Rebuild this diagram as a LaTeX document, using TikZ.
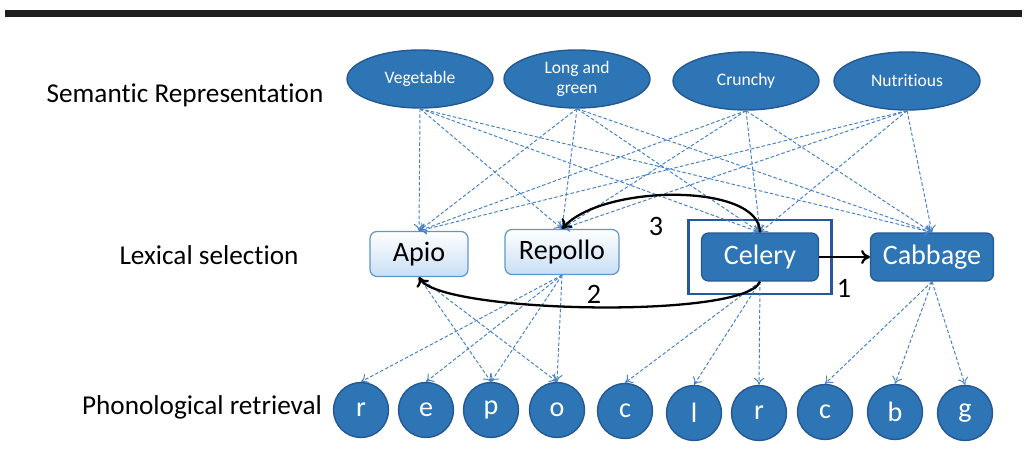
\documentclass[tikz,border=0pt]{standalone}
\usepackage{fontspec}
\setmainfont{Carlito}[Ligatures=NoCommon]
\usetikzlibrary{arrows.meta,shapes.geometric,fit}
\definecolor{nodeblue}{RGB}{46,117,182}
\definecolor{edgeblue}{RGB}{36,88,146}
\definecolor{lineblue}{RGB}{70,128,198}
\definecolor{paleblue}{RGB}{200,222,245}
\definecolor{frameblue}{RGB}{38,88,158}
\begin{document}
\begin{tikzpicture}[x=0.02cm, y=-0.02cm,
  every node/.style={align=center},
  semnode/.style={ellipse, draw=edgeblue, fill=nodeblue, text=white, line width=0.8pt,
                  minimum width=2.92cm, minimum height=1.16cm, inner sep=0pt,
                  font=\fontsize{10}{11.5}\selectfont},
  lexlight/.style={draw=nodeblue!75, top color=white, bottom color=paleblue, line width=0.7pt,
                   rounded corners=4pt, minimum height=0.9cm, font=\fontsize{16}{18}\selectfont},
  lexdark/.style={draw=edgeblue, fill=nodeblue, text=white, line width=0.7pt,
                  rounded corners=4pt, minimum height=0.96cm, font=\fontsize{16}{18}\selectfont},
  phonnode/.style={circle, draw=edgeblue, fill=nodeblue, text=white, line width=0.8pt,
                   minimum size=1.1cm, inner sep=0pt, font=\fontsize{16}{18}\selectfont},
  levelname/.style={font=\fontsize{15.5}{18}\selectfont},
  link/.style={lineblue, line width=0.55pt, dash pattern=on 2pt off 1.2pt, -{To[length=4pt,width=6pt]}},
  jump/.style={black, line width=1.3pt, -{To[length=5pt,width=8pt]}},
  numlabel/.style={font=\fontsize{16}{18}\selectfont}
]
\useasboundingbox (0,0) rectangle (1024,472);
\fill[black!88] (5,10) rectangle (1022,17);

\node[levelname] (semlevel) at (185,95) {Semantic Representation};
\node[levelname] (lexlevel) at (209,255) {Lexical selection};
\node[levelname] (phonlevel) at (202,407) {Phonological retrieval};

\node[semnode] (vegetable) at (420,79) {Vegetable};
\node[semnode] (longgreen) at (577,79) {Long and\\green};
\node[semnode] (crunchy) at (746,81) {Crunchy};
\node[semnode] (nutritious) at (907,81) {Nutritious};

\node[lexlight, minimum width=1.96cm] (apio) at (419,254) {Apio};
\node[lexlight, minimum width=2.28cm] (repollo) at (562,252) {Repollo};
\node[lexdark, minimum width=2.34cm] (celery) at (760,257) {Celery};
\node[lexdark, minimum width=2.46cm] (cabbage) at (932,257) {Cabbage};
\node[draw=frameblue, line width=1.3pt, inner xsep=0.25cm, inner ysep=0.25cm, fit=(celery)] (focus) {};

\node[phonnode] (r1) at (361,410) {r};
\node[phonnode] (e1) at (426,410) {e};
\node[phonnode] (p1) at (491,410) {p};
\node[phonnode] (o1) at (557,410) {o};
\node[phonnode] (c1) at (625,411) {c};
\node[phonnode] (l1) at (694,413) {l};
\node[phonnode] (r2) at (759,413) {r};
\node[phonnode] (c2) at (825,412) {c};
\node[phonnode] (b1) at (895,412) {b};
\node[phonnode] (g1) at (965,413) {g};

\foreach \s in {vegetable,longgreen,crunchy,nutritious}
  \foreach \t in {apio,repollo,celery,cabbage}
    \draw[link] (\s.south) -- (\t.north);

\foreach \t in {p1,o1} \draw[link] (apio.south) -- (\t.north);
\foreach \t in {r1,e1,p1,o1} \draw[link] (repollo.south) -- (\t.north);
\foreach \t in {c1,l1,r2} \draw[link] (celery.south) -- (\t.north);
\foreach \t in {c2,b1,g1} \draw[link] (cabbage.south) -- (\t.north);

\draw[jump] (celery.east) -- (cabbage.west);
\draw[jump] (celery.south) .. controls +(-15,38) and +(20,36) .. (apio.south);
\draw[jump] (celery.north) .. controls +(0,-50) and +(40,-45) .. (repollo.north);

\node[numlabel] (one) at (844,288) {1};
\node[numlabel] (two) at (594,294) {2};
\node[numlabel] (three) at (656,226) {3};
\end{tikzpicture}
\end{document}
